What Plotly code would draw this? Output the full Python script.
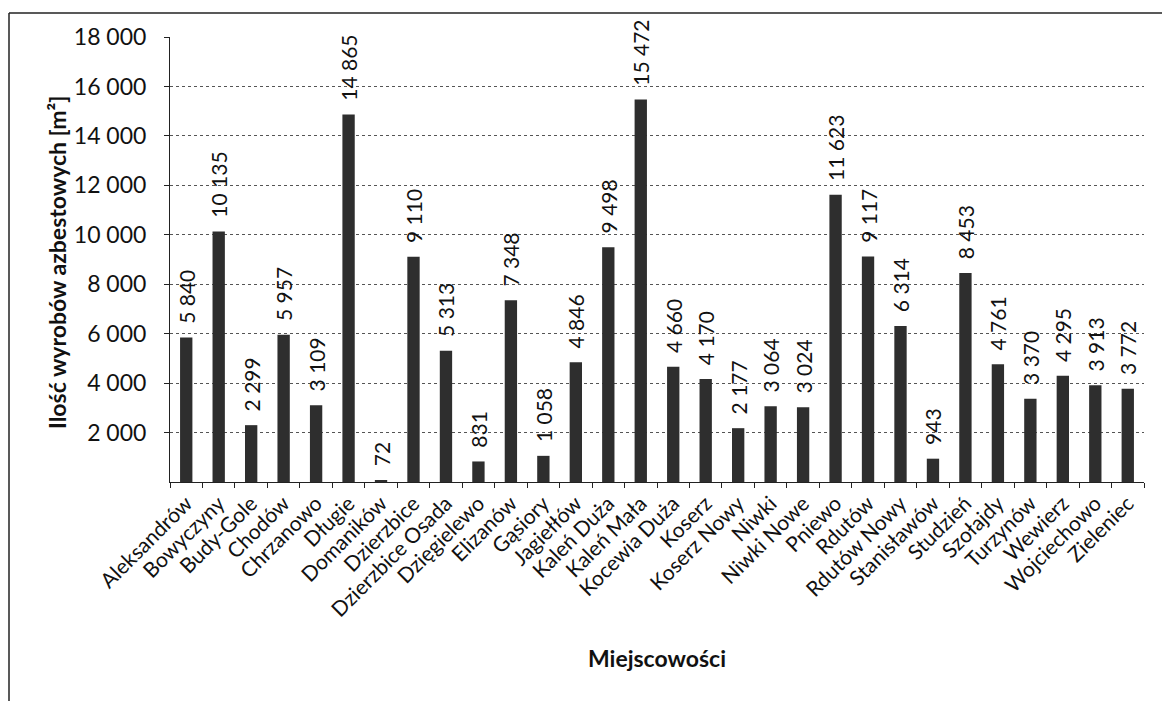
import plotly.graph_objects as go

categories = ["Aleksandrów", "Bowyczyny", "Budy-Gole", "Chodów", "Chrzanowo", "Długie",
              "Domaników", "Dzierzbice", "Dzierzbice Osada", "Dzięgielewo", "Elizanów",
              "Gąsiory", "Jagiełłów", "Kaleń Duża", "Kaleń Mała", "Kocewia Duża", "Koserz",
              "Koserz Nowy", "Niwki", "Niwki Nowe", "Pniewo", "Rdutów", "Rdutów Nowy",
              "Stanisławów", "Studzień", "Szołajdy", "Turzynów", "Wewierz", "Wojciechowo",
              "Zieleniec"]
values = [5840, 10135, 2299, 5957, 3109, 14865, 72, 9110, 5313, 831, 7348, 1058, 4846,
          9498, 15472, 4660, 4170, 2177, 3064, 3024, 11623, 9117, 6314, 943, 8453, 4761,
          3370, 4295, 3913, 3772]
y_ticks = [2000, 4000, 6000, 8000, 10000, 12000, 14000, 16000, 18000]
y_title = "Ilość wyrobów azbestowych [m²]"
x_title = "Miejscowości"


def fmt(v):
    return f"{v:,}".replace(",", " ")


FONT = "Lato"

fig = go.Figure(go.Bar(
    x=categories, y=values,
    marker=dict(color="#2e2e2e", line=dict(width=0)),
    text=["\u00a0\u00a0" + fmt(v) for v in values],
    textposition="outside", textangle=-90, constraintext="none",
    textfont=dict(family=FONT, size=21, color="#111"),
    cliponaxis=False,
))

W0, W1, T0, B0 = 170, 1144, 37, 482
PW, PH = W1 - W0, B0 - T0


def px(x):
    return (x - W0) / PW


def py(y):
    return (B0 - y) / PH


fig.update_layout(
    width=1162, height=701,
    margin=dict(l=W0, r=1162 - W1, t=T0, b=701 - B0, autoexpand=False),
    paper_bgcolor="white", plot_bgcolor="white",
    bargap=0.62, showlegend=False,
    font=dict(family=FONT, color="#111"),
    shapes=[
        dict(type="line", xref="paper", yref="paper", x0=px(9), x1=px(1162), y0=py(13), y1=py(13),
             line=dict(color="#222", width=1.5)),
        dict(type="line", xref="paper", yref="paper", x0=px(9), x1=px(9), y0=py(13), y1=py(701),
             line=dict(color="#222", width=1.5)),
    ],
    annotations=[
        dict(text=f"<b>{y_title}</b>", xref="paper", yref="paper", x=px(57), y=py(263),
             xanchor="center", yanchor="middle", textangle=-90, showarrow=False,
             font=dict(family=FONT, size=23, color="#111")),
    ],
)
fig.update_xaxes(
    type="category", tickangle=-45, tickson="boundaries", ticks="outside", ticklen=5,
    tickcolor="#222", showline=True, linecolor="#222", linewidth=1, showgrid=False,
    tickfont=dict(family=FONT, size=21, color="#111"),
    title=dict(text=f"<b>{x_title}</b>", font=dict(family=FONT, size=23, color="#111"), standoff=30),
)
fig.update_yaxes(
    range=[0, 18000], tickvals=y_ticks, ticktext=[fmt(v) for v in y_ticks],
    ticks="outside", ticklen=5, tickcolor="#222", showline=True, linecolor="#222", linewidth=1,
    showgrid=True, gridcolor="#555", griddash="dot", gridwidth=1, zeroline=False,
    ticklabelstandoff=13,
    tickfont=dict(family=FONT, size=23, color="#111"),
)

fig.write_html("out.html")
